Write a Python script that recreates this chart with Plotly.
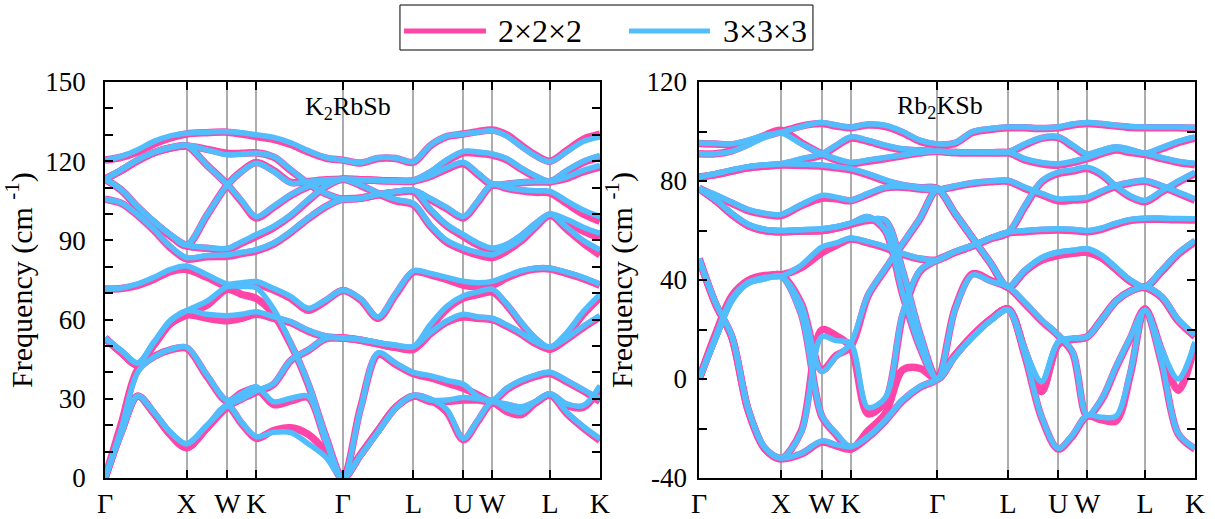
import plotly.graph_objects as go

# ---------------- data ----------------
kpath = [0.0, 0.2, 0.4, 0.6, 0.8, 1.0, 1.25, 1.5, 1.677, 1.8536, 2.066, 2.278, 2.490, 2.702,
         2.9142, 3.131, 3.347, 3.564, 3.7802, 3.984, 4.188, 4.3926, 4.569, 4.7462, 4.923,
         5.100, 5.276, 5.4533, 5.657, 5.861, 6.0657]
hs_pos = [0.0, 1.0, 1.5, 1.8536, 2.9142, 3.7802, 4.3926, 4.7462, 5.4533, 6.0657]
hs_labels = ["Γ", "X", "W", "K", "Γ", "L", "U", "W", "L", "K"]
series_names = ["2×2×2", "3×3×3"]
left_yticks = [0, 30, 60, 90, 120, 150]
right_yticks = [-40, 0, 40, 80, 120]
right_yticktext = ["-40", "0", "40", "80", "120"]

# K2RbSb, 3x3x3 supercell
k2rbsb_333 = [
    [120.4, 121.8, 124.3, 127.5, 129.6, 130.6, 131.0, 131.2, 130.8, 130.0, 129.0, 127.0, 124.0, 121.5, 120.4, 119.5, 121.3, 121.2, 119.8, 126.0, 129.5, 130.3, 131.0, 131.5, 129.5, 125.6, 122.0, 119.8, 123.5, 127.5, 129.2],
    [113.2, 116.8, 120.5, 123.4, 125.2, 126.0, 124.3, 122.4, 122.6, 123.0, 121.8, 116.8, 111.7, 107.9, 105.6, 106.0, 107.5, 108.5, 109.0, 106.0, 102.5, 99.1, 105.0, 111.3, 110.0, 109.2, 108.8, 108.6, 105.0, 101.5, 99.0],
    [113.2, 116.8, 120.5, 123.4, 125.2, 126.0, 118.5, 111.1, 105.0, 99.0, 102.9, 107.3, 110.5, 112.3, 113.2, 113.0, 112.7, 112.5, 112.7, 116.0, 120.5, 123.7, 123.5, 122.8, 121.0, 117.4, 114.5, 112.4, 116.5, 120.0, 122.2],
    [113.2, 109.2, 102.9, 97.2, 92.2, 88.3, 99.7, 111.1, 116.1, 119.2, 116.1, 111.7, 112.3, 113.0, 113.2, 113.0, 112.7, 112.5, 112.7, 114.5, 117.5, 119.6, 115.5, 111.3, 111.5, 112.0, 112.3, 112.4, 114.0, 116.5, 118.4],
    [113.2, 109.2, 102.9, 97.2, 92.2, 88.3, 87.3, 87.0, 89.5, 92.2, 95.3, 99.7, 105.4, 110.5, 113.2, 111.0, 108.0, 105.5, 104.0, 96.0, 90.0, 87.1, 85.5, 84.6, 87.0, 90.5, 95.5, 100.0, 95.0, 90.0, 86.4],
    [105.6, 104.2, 99.8, 94.1, 87.8, 83.5, 84.3, 84.6, 85.5, 86.5, 89.0, 93.4, 98.5, 102.9, 105.6, 106.0, 107.5, 108.5, 109.0, 102.0, 96.0, 92.2, 89.0, 87.1, 88.5, 92.0, 96.5, 100.0, 98.0, 95.0, 92.7],
    [71.6, 72.0, 73.5, 76.0, 79.0, 80.3, 77.0, 73.5, 74.0, 74.4, 71.8, 68.7, 64.3, 67.4, 71.2, 68.0, 61.0, 70.0, 78.5, 77.5, 76.0, 74.5, 74.0, 74.5, 76.5, 78.5, 79.5, 79.5, 78.0, 76.0, 73.5],
    [53.0, 48.3, 43.6, 51.5, 59.6, 63.4, 67.0, 72.5, 72.5, 72.0, 64.0, 51.0, 36.0, 16.0, 0.0, 26.0, 47.5, 43.5, 40.0, 38.8, 37.0, 35.5, 31.0, 29.5, 34.0, 37.0, 39.0, 40.1, 37.0, 33.5, 30.0],
    [53.0, 48.3, 43.6, 51.5, 59.6, 63.4, 62.0, 61.5, 62.0, 63.0, 61.1, 59.2, 56.0, 53.8, 53.0, 52.5, 51.3, 50.3, 49.8, 58.0, 65.0, 69.0, 70.5, 71.5, 66.0, 59.0, 53.0, 49.6, 55.0, 63.0, 69.5],
    [0.0, 17.0, 31.0, 25.0, 17.4, 13.0, 20.0, 27.5, 30.0, 33.0, 35.8, 44.7, 48.5, 52.9, 53.0, 52.5, 51.3, 50.3, 49.8, 55.0, 59.5, 62.0, 61.0, 60.5, 58.0, 55.0, 51.5, 49.6, 53.0, 57.5, 61.5],
    [0.0, 18.7, 40.0, 45.8, 48.7, 49.6, 39.0, 29.4, 32.0, 34.6, 28.9, 30.2, 31.0, 14.4, 0.0, 8.5, 17.5, 26.5, 31.3, 30.0, 26.0, 15.0, 22.0, 29.0, 26.2, 25.0, 29.0, 31.9, 28.1, 27.5, 35.0],
    [0.0, 17.0, 31.0, 25.0, 17.4, 13.0, 20.0, 27.5, 21.0, 15.7, 17.3, 17.2, 13.0, 8.0, 0.0, 8.5, 17.5, 26.5, 31.3, 29.5, 29.5, 30.5, 30.0, 29.0, 28.0, 27.0, 29.0, 31.9, 25.0, 19.5, 14.9],
]

# K2RbSb, 2x2x2 supercell
k2rbsb_222 = [
    [120.4, 121.5, 123.5, 126.5, 128.8, 130.3, 130.8, 131.0, 130.3, 129.3, 128.3, 126.3, 123.5, 121.2, 120.4, 119.3, 121.0, 121.0, 119.6, 125.8, 129.3, 130.3, 131.2, 131.8, 130.0, 126.0, 122.3, 120.0, 124.0, 128.3, 130.2],
    [113.2, 116.5, 120.2, 123.2, 125.0, 125.8, 124.5, 123.0, 123.0, 123.2, 121.5, 116.5, 111.5, 107.7, 105.6, 106.0, 107.3, 108.2, 108.6, 105.5, 102.0, 98.5, 104.5, 111.0, 109.7, 108.8, 108.2, 108.0, 104.0, 100.0, 97.2],
    [113.2, 116.5, 120.2, 123.2, 125.0, 125.8, 118.5, 111.1, 104.5, 98.5, 102.5, 107.0, 110.3, 112.2, 113.2, 113.0, 112.7, 112.5, 112.5, 115.5, 120.0, 123.2, 123.0, 122.3, 120.5, 117.0, 114.0, 112.2, 116.0, 119.5, 121.5],
    [113.2, 109.0, 102.6, 96.8, 91.8, 88.0, 99.5, 111.1, 116.3, 119.5, 116.5, 112.0, 112.3, 113.0, 113.2, 113.0, 112.7, 112.5, 112.5, 114.2, 117.0, 119.0, 115.0, 111.0, 111.3, 111.8, 112.1, 112.2, 113.5, 116.0, 117.8],
    [113.2, 109.0, 102.6, 96.8, 91.8, 88.0, 87.0, 86.5, 89.0, 91.5, 94.8, 99.3, 105.0, 110.3, 113.2, 110.8, 107.7, 105.0, 103.5, 95.5, 89.3, 86.3, 84.5, 83.5, 86.0, 89.8, 95.0, 99.5, 94.3, 89.0, 84.5],
    [105.6, 104.0, 99.5, 93.8, 87.3, 83.0, 83.8, 84.0, 85.0, 86.0, 88.6, 93.0, 98.2, 102.7, 105.6, 106.0, 107.3, 108.2, 108.6, 101.5, 95.5, 91.5, 88.3, 86.3, 88.0, 91.5, 96.0, 99.5, 97.0, 93.5, 91.0],
    [71.6, 71.8, 73.0, 75.3, 78.2, 79.0, 76.0, 72.5, 73.0, 73.5, 71.2, 68.0, 63.5, 67.0, 71.0, 67.5, 60.5, 69.5, 78.0, 77.0, 75.2, 73.0, 72.5, 73.0, 75.8, 78.0, 79.2, 79.2, 77.5, 75.5, 73.0],
    [53.0, 47.5, 42.8, 50.5, 58.5, 61.8, 65.5, 71.5, 69.5, 68.0, 62.0, 50.5, 35.5, 16.0, 0.0, 26.5, 46.8, 43.0, 39.5, 38.0, 36.0, 34.0, 31.5, 29.0, 33.5, 36.5, 38.5, 39.6, 36.5, 33.0, 29.0],
    [53.0, 47.5, 42.8, 50.5, 58.5, 61.8, 60.5, 59.6, 60.5, 62.0, 60.5, 58.8, 55.6, 53.5, 53.0, 52.2, 50.8, 49.5, 48.8, 57.0, 64.0, 68.2, 69.5, 70.5, 65.5, 58.5, 52.5, 48.8, 54.0, 62.0, 68.5],
    [0.0, 17.5, 31.0, 24.5, 16.5, 11.5, 19.0, 27.0, 30.0, 32.5, 35.5, 44.5, 48.3, 52.7, 53.0, 52.2, 50.8, 49.5, 48.8, 54.5, 59.0, 61.0, 60.5, 60.0, 57.5, 54.5, 51.0, 48.8, 52.5, 57.0, 61.0],
    [0.0, 20.5, 41.0, 46.0, 48.5, 49.2, 38.5, 29.0, 32.3, 34.0, 27.8, 29.2, 30.5, 14.4, 0.0, 8.8, 18.0, 26.8, 31.0, 29.5, 25.0, 14.5, 21.5, 28.5, 25.2, 24.0, 28.5, 31.5, 27.5, 26.8, 34.0],
    [0.0, 17.5, 31.0, 24.5, 16.5, 11.5, 19.0, 27.0, 20.5, 15.0, 18.0, 19.0, 16.5, 10.0, 0.0, 8.8, 18.0, 26.8, 31.0, 29.0, 29.0, 29.5, 29.5, 28.5, 27.5, 26.5, 28.5, 31.5, 24.5, 19.0, 14.2],
]

# Rb2KSb, 3x3x3 supercell
rb2ksb_333 = [
    [95.4, 95.2, 95.0, 96.5, 98.5, 99.6, 102.0, 103.6, 102.6, 101.8, 103.0, 102.5, 100.0, 96.5, 95.0, 95.5, 100.0, 101.2, 101.8, 101.8, 101.5, 101.8, 103.0, 103.6, 103.2, 102.5, 102.0, 101.8, 101.8, 101.8, 101.6],
    [91.0, 91.0, 92.0, 94.5, 97.5, 99.4, 95.0, 91.0, 89.0, 87.5, 88.5, 89.5, 90.5, 91.5, 92.0, 91.7, 91.6, 91.6, 91.7, 95.0, 97.5, 97.8, 94.5, 91.0, 92.5, 93.8, 92.8, 91.2, 93.5, 96.0, 97.8],
    [81.6, 83.0, 84.5, 85.8, 86.5, 87.0, 89.0, 91.0, 94.5, 97.8, 96.5, 94.5, 93.0, 92.5, 92.0, 91.7, 91.6, 91.6, 91.7, 89.0, 87.5, 87.0, 88.0, 89.5, 91.5, 93.0, 92.0, 91.2, 89.5, 88.0, 87.2],
    [81.6, 83.0, 84.5, 85.8, 86.5, 87.0, 86.8, 86.5, 85.8, 85.0, 83.0, 80.5, 78.5, 77.5, 77.0, 67.0, 57.0, 47.0, 37.3, 44.0, 49.0, 51.3, 52.0, 52.6, 50.0, 45.0, 40.0, 37.3, 44.0, 51.0, 56.0],
    [77.0, 74.5, 71.5, 68.5, 67.0, 66.5, 70.5, 74.2, 73.5, 72.3, 75.0, 77.5, 77.8, 77.0, 76.4, 78.0, 79.3, 80.0, 80.2, 77.5, 75.0, 72.8, 73.0, 73.5, 76.0, 78.2, 79.5, 80.2, 78.2, 75.5, 72.8],
    [77.0, 72.5, 67.0, 62.5, 60.5, 60.0, 60.3, 60.7, 61.5, 63.0, 64.5, 64.2, 44.0, 18.4, 0.0, 28.0, 42.0, 39.5, 37.3, 31.0, 24.0, 17.8, 11.0, -14.6, -8.0, 5.0, 17.0, 27.9, 12.0, 0.0, 15.0],
    [77.0, 72.5, 67.0, 62.5, 60.5, 60.0, 60.3, 60.7, 61.5, 63.0, 65.6, 60.2, 34.6, 13.1, 0.0, 9.0, 17.0, 23.5, 27.9, 12.0, -1.0, 15.0, 16.5, 17.0, 24.0, 31.5, 35.5, 37.3, 33.5, 24.0, 17.8],
    [48.6, 31.0, 17.5, -12.0, -27.5, -31.9, -21.5, 17.0, 15.5, 14.4, -11.5, -7.5, 26.5, 44.0, 48.1, 51.5, 54.0, 57.0, 59.4, 60.0, 60.5, 60.7, 60.5, 60.0, 61.0, 63.0, 64.5, 65.0, 65.0, 64.8, 64.7],
    [48.6, 31.0, 17.5, -12.0, -27.5, -31.9, -30.0, -25.0, -26.5, -27.3, -23.3, -16.6, -8.5, -3.1, 0.0, 9.0, 17.0, 23.5, 27.9, 10.0, -15.0, -28.0, -22.5, -14.6, -15.5, -15.0, 3.0, 27.9, 7.0, -22.0, -28.0],
    [0.0, 16.0, 31.5, 38.6, 40.4, 41.5, 26.0, -14.6, -22.0, -27.3, -23.3, -16.6, -8.5, -3.1, 0.0, 9.0, 17.0, 23.5, 27.9, 12.0, -1.0, 15.0, 16.5, 17.0, 24.0, 31.5, 35.5, 37.3, 33.5, 24.0, 17.8],
    [0.0, 17.0, 32.5, 39.0, 41.0, 41.5, 46.0, 53.3, 55.0, 57.0, 55.5, 53.5, 50.8, 48.8, 48.1, 51.5, 54.0, 57.0, 59.4, 70.0, 80.0, 83.6, 84.5, 85.6, 83.0, 78.0, 74.0, 72.2, 76.0, 80.0, 83.6],
    [0.0, 16.0, 31.5, 38.6, 40.4, 41.5, 30.0, 3.0, 9.0, 14.4, 34.0, 44.7, 54.8, 64.9, 76.4, 67.0, 57.0, 47.0, 37.3, 44.0, 49.0, 51.3, 52.0, 52.6, 50.0, 45.0, 40.0, 37.3, 44.0, 51.0, 56.0],
]

# Rb2KSb, 2x2x2 supercell
rb2ksb_222 = [
    [95.2, 95.0, 94.6, 96.0, 98.2, 99.8, 102.2, 103.2, 102.2, 101.5, 102.6, 102.0, 99.5, 96.0, 94.6, 95.2, 99.6, 100.8, 101.5, 101.5, 101.2, 101.5, 102.6, 103.2, 102.8, 102.2, 101.6, 101.5, 101.5, 101.5, 101.3],
    [91.0, 91.0, 92.2, 95.0, 98.3, 100.5, 95.5, 91.0, 88.5, 87.0, 88.0, 89.0, 90.2, 91.3, 92.0, 91.5, 91.4, 91.4, 91.5, 94.5, 97.2, 97.5, 94.0, 90.5, 92.0, 93.3, 92.3, 90.8, 93.0, 95.5, 97.3],
    [81.6, 82.6, 84.0, 85.3, 86.0, 86.5, 88.5, 90.5, 94.0, 97.3, 96.0, 94.0, 92.6, 92.2, 92.0, 91.5, 91.4, 91.4, 91.5, 88.5, 87.0, 86.4, 87.4, 89.0, 91.0, 92.5, 91.5, 90.8, 89.0, 87.5, 86.6],
    [81.6, 82.6, 84.0, 85.3, 86.0, 86.5, 86.3, 86.0, 85.3, 84.5, 82.5, 80.0, 78.2, 77.3, 77.0, 66.8, 56.8, 46.8, 37.0, 43.5, 48.0, 50.0, 50.8, 51.2, 49.0, 44.3, 39.5, 37.0, 43.5, 50.5, 55.5],
    [77.0, 74.0, 71.0, 68.0, 66.5, 66.0, 70.0, 73.0, 72.8, 72.0, 74.5, 77.2, 77.5, 76.8, 76.4, 77.7, 79.0, 79.7, 79.9, 77.0, 74.5, 72.0, 72.3, 72.8, 75.5, 77.8, 79.2, 79.9, 77.8, 75.0, 72.2],
    [77.0, 72.2, 66.5, 62.0, 60.0, 59.5, 59.8, 60.0, 61.0, 62.5, 64.0, 63.8, 43.5, 18.0, 0.0, 28.5, 42.5, 39.8, 37.0, 30.5, 23.5, 17.5, 10.5, -15.0, -8.5, 4.5, 16.5, 28.3, 11.5, -4.5, 14.0],
    [77.0, 72.2, 66.5, 62.0, 60.0, 59.5, 59.8, 60.0, 61.0, 62.5, 65.2, 59.8, 34.2, 12.8, 0.0, 9.5, 17.5, 24.0, 28.3, 11.5, -5.0, 14.0, 16.0, 17.0, 24.0, 31.5, 35.5, 37.0, 33.0, 23.5, 17.2],
    [48.6, 30.5, 17.0, -12.5, -28.0, -32.2, -21.0, 19.8, 17.5, 13.0, -14.0, -9.0, 25.5, 43.5, 48.1, 51.2, 53.7, 56.7, 59.0, 59.5, 60.0, 60.2, 60.0, 59.5, 60.5, 62.5, 64.0, 64.5, 64.5, 64.3, 64.2],
    [48.6, 30.5, 17.0, -12.5, -28.0, -32.2, -30.3, -25.5, -27.0, -28.3, -23.6, -16.9, -8.8, -3.4, 0.0, 9.5, 17.5, 24.0, 28.3, 9.5, -15.5, -28.3, -23.0, -15.0, -16.5, -17.0, 2.0, 28.3, 6.5, -22.3, -28.3],
    [0.0, 17.0, 32.5, 39.5, 41.2, 42.0, 26.5, -15.0, -22.5, -28.3, -21.0, -14.0, 3.6, 4.3, 0.0, 9.5, 17.5, 24.0, 28.3, 11.5, -5.0, 14.0, 16.0, 17.0, 24.0, 31.5, 35.5, 37.0, 33.0, 23.5, 17.2],
    [0.0, 18.0, 33.5, 39.8, 41.8, 42.0, 45.0, 51.0, 54.0, 56.5, 55.0, 53.0, 50.3, 48.5, 48.1, 51.2, 53.7, 56.7, 59.0, 69.5, 79.5, 83.0, 84.0, 85.0, 82.5, 77.5, 73.5, 71.6, 75.5, 79.5, 83.0],
    [0.0, 17.0, 32.5, 39.5, 41.2, 42.0, 30.5, 3.5, 9.5, 13.0, 33.5, 44.3, 54.5, 64.7, 76.4, 66.8, 56.8, 46.8, 37.0, 43.5, 48.0, 50.0, 50.8, 51.2, 49.0, 44.3, 39.5, 37.0, 43.5, 50.5, 55.5],
]

# ---------------- styling ----------------
PINK = "#ff45a8"
BLUE = "#52bdfd"
FONT = "Liberation Serif, Times New Roman, DejaVu Serif, serif"

fig = go.Figure()

def add_bands(bands, color, width, xa, ya):
    for ys in bands:
        fig.add_trace(go.Scatter(
            x=kpath, y=ys, mode="lines", xaxis=xa, yaxis=ya,
            line=dict(color=color, width=width, shape="spline", smoothing=0.9),
            showlegend=False, hoverinfo="skip"))

add_bands(k2rbsb_222, PINK, 7.5, "x", "y")
add_bands(rb2ksb_222, PINK, 7.5, "x2", "y2")
add_bands(k2rbsb_333, BLUE, 5.5, "x", "y")
add_bands(rb2ksb_333, BLUE, 5.5, "x2", "y2")

xcommon = dict(range=[0, hs_pos[-1]], tickmode="array", tickvals=hs_pos, ticktext=hs_labels,
               ticks="inside", ticklen=8, tickwidth=1.5, tickcolor="black",
               showgrid=True, gridcolor="#adadad", gridwidth=1.5,
               showline=True, linecolor="black", linewidth=1.5, mirror="ticks",
               zeroline=False, automargin=False,
               tickfont=dict(family=FONT, size=28, color="black"))

ytitle = dict(text="Frequency (cm <sup>-1</sup>)", font=dict(family=FONT, size=30, color="black"),
              standoff=5)

ycommon = dict(ticks="inside", ticklen=8, tickwidth=1.5, tickcolor="black",
               showline=True, linecolor="black", linewidth=1.5, mirror="ticks",
               showgrid=False, zeroline=False, automargin=False,
               tickfont=dict(family=FONT, size=27, color="black"))

fig.update_layout(
    width=1215, height=519,
    margin=dict(l=105, r=20, t=82, b=41),
    paper_bgcolor="white", plot_bgcolor="white",
    font=dict(family=FONT, color="black"),
    showlegend=False,
    xaxis=dict(domain=[0, 0.4541], anchor="y", **xcommon),
    xaxis2=dict(domain=[0.5450, 1.0], anchor="y2", **xcommon),
    yaxis=dict(domain=[0, 1], anchor="x", range=[0, 150], tickmode="array", tickvals=left_yticks,
               minor=dict(dtick=10, tick0=0, ticks="inside", ticklen=8, tickwidth=1.5, tickcolor="black"),
               ticklabelstandoff=12, title=ytitle, **ycommon),
    yaxis2=dict(domain=[0, 1], anchor="x2", range=[-40, 120], tickmode="array", tickvals=right_yticks,
                ticktext=right_yticktext,
                minor=dict(dtick=20, tick0=0, ticks="inside", ticklen=8, tickwidth=1.5, tickcolor="black"),
                ticklabelstandoff=5, title=ytitle, **ycommon),
)

# panel labels
fig.add_annotation(x=2.98, y=140, xref="x", yref="y", text="K<sub>2</sub>RbSb", showarrow=False,
                   font=dict(family=FONT, size=26, color="black"))
fig.add_annotation(x=2.95, y=110, xref="x2", yref="y2", text="Rb<sub>2</sub>KSb", showarrow=False,
                   font=dict(family=FONT, size=26, color="black"))

# manual legend (box, line samples, labels)
fig.add_shape(type="rect", xref="paper", yref="paper", x0=0.2706, x1=0.6495, y0=1.0808, y1=1.1944,
              line=dict(color="black", width=1), fillcolor="white")
fig.add_shape(type="line", xref="paper", yref="paper", x0=0.2743, x1=0.3495, y0=1.1288, y1=1.1288,
              line=dict(color=PINK, width=5))
fig.add_shape(type="line", xref="paper", yref="paper", x0=0.4807, x1=0.5550, y0=1.1288, y1=1.1288,
              line=dict(color=BLUE, width=5))
fig.add_annotation(x=0.3587, y=1.1288, xref="paper", yref="paper", text=series_names[0], showarrow=False,
                   xanchor="left", yanchor="middle", font=dict(family=FONT, size=32, color="black"))
fig.add_annotation(x=0.5651, y=1.1288, xref="paper", yref="paper", text=series_names[1], showarrow=False,
                   xanchor="left", yanchor="middle", font=dict(family=FONT, size=32, color="black"))

fig.write_html("out.html", config={"displayModeBar": False},
               post_script="document.body.style.margin='0px';")
